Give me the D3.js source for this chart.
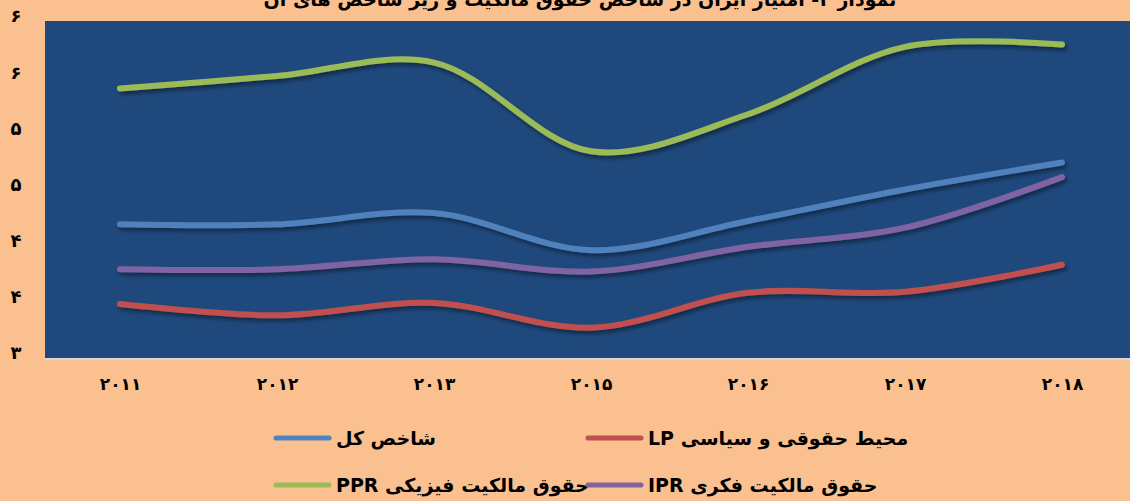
<!DOCTYPE html>
<html>
<head>
<meta charset="utf-8">
<script src="https://cdn.jsdelivr.net/npm/d3@7"></script>
<style>
  html, body { margin: 0; padding: 0; background: #FAC090; }
  svg { display: block; }
</style>
</head>
<body>
<div id="chart"></div>
<script>
// ***************数据*******************
const years = ['2011', '2012', '2013', '2015', '2016', '2017', '2018'];
const totalIndex = [4.19, 4.19, 4.29, 3.96, 4.22, 4.50, 4.74];   // شاخص کل
const lpIndex = [3.48, 3.38, 3.49, 3.27, 3.58, 3.59, 3.83];      // LP
const pprIndex = [5.40, 5.51, 5.63, 4.84, 5.17, 5.77, 5.79];     // PPR
const iprIndex = [3.79, 3.79, 3.88, 3.77, 3.99, 4.16, 4.61];     // IPR
const yTicks = [3, 3.5, 4, 4.5, 5, 5.5, 6];

const seriesNames = ['شاخص کل', 'محیط حقوقی و سیاسی LP', 'حقوق مالکیت فیزیکی PPR', 'حقوق مالکیت فکری  IPR'];
const seriesColors = ['#4F81BD', '#C0504D', '#9BBB59', '#8064A2'];
const titleText = 'نمودار ۲- امتیاز ایران در شاخص حقوق مالکیت و زیر شاخص های آن';

const width = 1130;
const height = 501;
const plot = { left: 45, top: 21, right: 1130, bottom: 358 };
const fontFamily = '"DejaVu Sans", sans-serif';

const faDigits = s => String(s).replace(/\d/g, d => '۰۱۲۳۴۵۶۷۸۹'[d]);

const series = [totalIndex, lpIndex, pprIndex, iprIndex].map((values, i) => ({
  name: seriesNames[i],
  color: seriesColors[i],
  values: values
}));

// ***************svg*******************
const svg = d3.select('#chart').append('svg')
  .attr('width', width)
  .attr('height', height);

svg.append('rect')
  .attr('width', width)
  .attr('height', height)
  .attr('fill', '#FAC090');

const defs = svg.append('defs');
const shadow = defs.append('filter')
  .attr('id', 'lineShadow')
  .attr('x', '-10%').attr('y', '-30%')
  .attr('width', '120%').attr('height', '160%');
shadow.append('feDropShadow')
  .attr('dx', 2)
  .attr('dy', 3)
  .attr('stdDeviation', 2)
  .attr('flood-color', '#000')
  .attr('flood-opacity', 0.45);

// plot background
svg.append('rect')
  .attr('x', plot.left)
  .attr('y', plot.top)
  .attr('width', plot.right - plot.left)
  .attr('height', plot.bottom - plot.top)
  .attr('fill', '#1F497D');

// ***************scales*******************
const x = d3.scalePoint()
  .domain(years)
  .range([120, 1062]);

const y = d3.scaleLinear()
  .domain([3, 6])
  .range([plot.bottom, plot.top]);

// ***************axes*******************
const xAxis = svg.append('g')
  .attr('transform', `translate(0,${plot.bottom})`)
  .call(d3.axisBottom(x).tickSize(0).tickPadding(20).tickFormat(faDigits));
xAxis.select('.domain')
  .attr('d', `M${plot.left},1H${plot.right}`)
  .attr('stroke', '#D9D9D9')
  .attr('stroke-width', 2);
xAxis.selectAll('text')
  .attr('font-family', fontFamily)
  .attr('font-weight', 'bold')
  .attr('font-size', '17px')
  .attr('fill', '#000');

const yAxis = svg.append('g')
  .attr('transform', `translate(${plot.left},0)`)
  .call(d3.axisLeft(y).tickValues(yTicks).tickSize(0).tickFormat(v => faDigits(d3.format('.0f')(v))));
yAxis.select('.domain').remove();
yAxis.selectAll('text')
  .attr('x', -29)
  .attr('dy', '0.05em')
  .attr('text-anchor', 'middle')
  .attr('font-family', fontFamily)
  .attr('font-weight', 'bold')
  .attr('font-size', '18px')
  .attr('fill', '#000');

// ***************lines*******************
const line = d3.line()
  .x((d, i) => x(years[i]))
  .y(d => y(d))
  .curve(d3.curveCatmullRom.alpha(0.5));

svg.append('g')
  .attr('class', 'lines')
  .selectAll('path')
  .data(series)
  .join('path')
  .attr('d', d => line(d.values))
  .attr('fill', 'none')
  .attr('stroke', d => d.color)
  .attr('stroke-width', 6)
  .attr('stroke-linecap', 'round')
  .attr('stroke-linejoin', 'round')
  .attr('filter', 'url(#lineShadow)');

// ***************title*******************
svg.append('text')
  .attr('x', 580)
  .attr('y', 6)
  .attr('text-anchor', 'middle')
  .attr('direction', 'rtl')
  .attr('font-family', fontFamily)
  .attr('font-weight', 'bold')
  .attr('font-size', '19px')
  .attr('fill', '#000')
  .text(titleText);

// ***************legend*******************
const legendPos = [
  { x: 276, y: 438 },
  { x: 588, y: 438 },
  { x: 276, y: 485 },
  { x: 588, y: 485 }
];
const legend = svg.append('g').attr('class', 'legend');
series.forEach((s, i) => {
  const p = legendPos[i];
  legend.append('line')
    .attr('x1', p.x)
    .attr('x2', p.x + 53)
    .attr('y1', p.y)
    .attr('y2', p.y)
    .attr('stroke', s.color)
    .attr('stroke-width', 5)
    .attr('stroke-linecap', 'round');
  legend.append('text')
    .attr('x', p.x + 60)
    .attr('y', p.y + 7)
    .attr('direction', 'rtl')
    .attr('text-anchor', 'end')
    .attr('font-family', fontFamily)
    .attr('font-weight', 'bold')
    .attr('font-size', '19px')
    .attr('fill', '#000')
    .text(s.name);
});
</script>
</body>
</html>
